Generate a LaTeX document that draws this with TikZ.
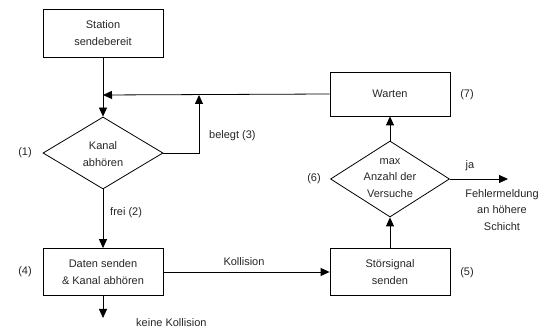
\documentclass[tikz,border=0pt]{standalone}
\usepackage{fontspec}
\setmainfont{Liberation Sans}
\usetikzlibrary{shapes.geometric,arrows.meta}
\begin{document}
\begin{tikzpicture}[x=1pt,y=-1pt,
  every node/.style={font=\fontsize{11}{16.5}\selectfont, text=black!85},
  box/.style={draw=black, line width=0.8pt, fill=white, rectangle, minimum width=120pt, inner sep=0pt, align=center},
  dia/.style={draw=black, line width=0.8pt, diamond, inner sep=0pt},
  txt/.style={align=center, inner sep=0pt},
  conn/.style={line width=0.8pt, draw=black},
  arr/.style={conn, -{Triangle[length=9pt,width=8pt]}}]
\useasboundingbox (0,0) rectangle (547,328);

\node[box, minimum height=48pt] (station) at (103,33) {Station\\sendebereit};
\node[dia, minimum width=120pt, minimum height=72pt] (kanal) at (103,153) {};
\node[txt] (kanalt) at (103,154) {Kanal\\abhören};
\node[box, minimum height=47pt] (daten) at (103,272) {Daten senden\\\& Kanal abhören};
\node[box, minimum height=47pt] (stoer) at (390,272) {Störsignal\\senden};
\node[dia, minimum width=119pt, minimum height=76pt] (max) at (390,179) {};
\node[txt] (maxt) at (390,178) {max\\Anzahl der\\Versuche};
\node[box, minimum height=44pt] (warten) at (390,94) {Warten};

\coordinate (join) at (103,95);
\coordinate (corner) at (199,153);
\coordinate (up) at (199,95);
\coordinate (endk) at (103,318);
\coordinate (endja) at (508,179);

\draw[arr] (station.south) -- (kanal.north);
\draw[arr] (warten.west) -- (join);
\draw[arr] (kanal.east) -- (corner) -- (up);
\draw[arr] (kanal.south) -- (daten.north);
\draw[arr] (daten.south) -- (endk);
\draw[arr] (daten.east) -- (stoer.west);
\draw[arr] (stoer.north) -- (max.south);
\draw[arr] (max.north) -- (warten.south);
\draw[arr] (max.east) -- (endja);

\node[txt] (l1) at (25,153) {(1)};
\node[txt, anchor=west] (l3) at (209,136) {belegt (3)};
\node[txt, anchor=west] (l2) at (110,213) {frei (2)};
\node[txt] (l4) at (25,272) {(4)};
\node[txt, anchor=west] (lk) at (136,323) {keine Kollision};
\node[txt] (lkol) at (244,262) {Kollision};
\node[txt] (l5) at (467,273) {(5)};
\node[txt] (l6) at (314,179) {(6)};
\node[txt] (l7) at (467,95) {(7)};
\node[txt] (lja) at (470,166) {ja};
\node[txt] (fehler) at (502,210) {Fehlermeldung\\an höhere\\Schicht};
\end{tikzpicture}
\end{document}
